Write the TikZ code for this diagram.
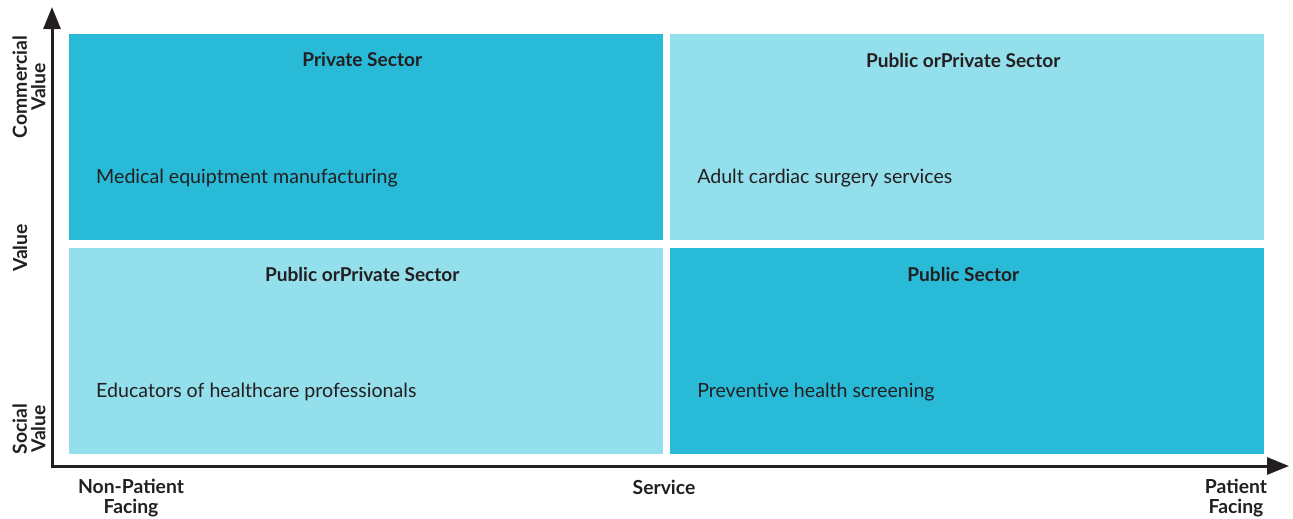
\documentclass[tikz,border=0pt]{standalone}
\usepackage{fontspec}
\setmainfont{Lato}
\usetikzlibrary{arrows.meta,positioning}

\definecolor{quaddark}{HTML}{29BAD7}
\definecolor{quadlight}{HTML}{93DFEB}
\definecolor{ink}{HTML}{231F20}

\begin{document}
\begin{tikzpicture}[
    x=0.75pt, y=-0.75pt,
    quad/.style={minimum width=445.5pt, minimum height=154.5pt, inner sep=0pt,
                 anchor=north west},
    head/.style={font=\fontsize{14.3}{16}\selectfont\bfseries, text=ink},
    body/.style={font=\fontsize{14.7}{16}\selectfont, text=ink, anchor=west},
    axislbl/.style={font=\fontsize{14.5}{14}\selectfont\bfseries, text=ink,
                    align=center},
    xlbl/.style={axislbl, font=\fontsize{14.5}{15.5}\selectfont\bfseries},
    axis/.style={line width=2.25pt, draw=ink, line join=miter,
                 {Triangle[length=16.5pt,width=12.75pt]}-{Triangle[length=16.5pt,width=12.75pt]}}
]
\useasboundingbox (0,0) rectangle (1293,518);

% --- four quadrants ---
\foreach \name/\x/\y/\shade/\title/\text in
    {pv/69/34/quaddark/{Private Sector}/{Medical equiptment manufacturing},
     pp/670/34/quadlight/{Public orPrivate Sector}/{Adult cardiac surgery services},
     ed/69/248/quadlight/{Public orPrivate Sector}/{Educators of healthcare professionals},
     pb/670/248/quaddark/{Public Sector}/{Preventive health screening}} {
    \node[quad, fill=\shade] (\name) at (\x,\y) {};
    \node[head] (\name-head) at ([shift={(-3pt,-19.5pt)}]\name.north) {\title};
    \node[body] (\name-body) at ([shift={(16.9pt,-108pt)}]\name.north west) {\text};
}

% --- axes ---
\coordinate (origin) at (52,466);
\coordinate (ytip) at (52,7);
\coordinate (xtip) at (1289,466);
\draw[axis] (ytip) -- (origin) -- (xtip);

% vertical axis labels
\node[axislbl, rotate=90] (commercial) at (29,87) {Commercial\\Value};
\node[axislbl, rotate=90] (value) at (20,248) {Value};
\node[axislbl, rotate=90] (social) at (29,429) {Social\\Value};

% horizontal axis labels
\node[xlbl] (nonpatient) at (131,498) {Non-Patient\\Facing};
\node[xlbl] (service) at (664,487) {Service};
\node[xlbl] (patient) at (1236,498) {Patient\\Facing};

\end{tikzpicture}
\end{document}
